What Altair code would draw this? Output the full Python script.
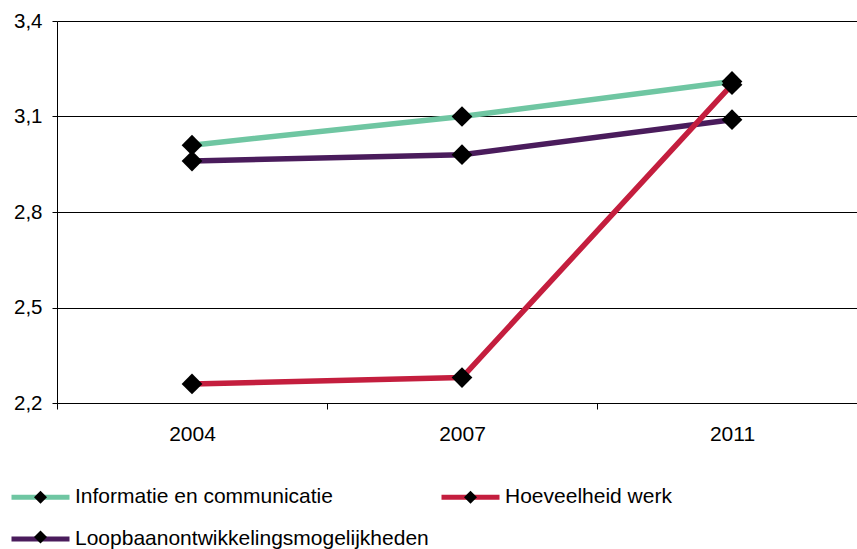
import altair as alt
import pandas as pd

# Survey scores per theme (1-4 scale), three measurement years
years = ["2004", "2007", "2011"]
series_names = [
    "Informatie en communicatie",
    "Loopbaanontwikkelingsmogelijkheden",
    "Hoeveelheid werk",
]
informatie = [3.01, 3.10, 3.21]
loopbaan = [2.96, 2.98, 3.09]
hoeveelheid = [2.26, 2.28, 3.20]
series_colors = ["#6fc6a2", "#4a1c5c", "#c41e3e"]
y_ticks = [2.2, 2.5, 2.8, 3.1, 3.4]

FONT = "Liberation Sans"

# rows in drawing order: the red line goes on top of the purple one
rows = []
for name, vals in zip(series_names, [informatie, loopbaan, hoeveelheid]):
    for yr, v in zip(years, vals):
        rows.append({"jaar": yr, "serie": name, "score": v})
df = pd.DataFrame(rows)

x_enc = alt.X(
    "jaar:O",
    bandPosition=0.5,
    scale=alt.Scale(type="band", domain=years, range=[0, 810],
                    paddingInner=0, paddingOuter=0),
    axis=alt.Axis(title=None, tickBand="extent", labelAngle=0,
                  labelFont=FONT, labelFontSize=21, labelColor="black",
                  labelPadding=14, tickSize=6, tickColor="black",
                  domainColor="black", grid=False),
)
y_enc = alt.Y(
    "score:Q",
    scale=alt.Scale(domain=[2.2, 3.4], nice=False, zero=False),
    axis=alt.Axis(title=None, values=y_ticks,
                  labelExpr="replace(format(datum.value, '.1f'), '.', ',')",
                  labelFont=FONT, labelFontSize=20.5, labelColor="black",
                  labelPadding=10, tickSize=5, tickColor="black",
                  domainColor="black", grid=True, gridColor="black",
                  gridWidth=1),
)

# two legends on one grid (entries fill column by column):
# coloured line segments, with black diamonds laid over them
legend_common = dict(
    orient="none", legendX=-48, columns=2, padding=0, title=None,
    labelFont=FONT, labelFontSize=21, labelLimit=600, labelOffset=3,
    values=series_names,
)

lines = alt.Chart(df).mark_line(strokeWidth=5.5, strokeJoin="round").encode(
    x=x_enc,
    y=y_enc,
    stroke=alt.Stroke(
        "serie:N",
        scale=alt.Scale(domain=series_names, range=series_colors),
        legend=alt.Legend(symbolType="stroke", symbolSize=3364,
                          symbolStrokeWidth=5, labelColor="black",
                          legendY=444.5, rowPadding=-24, columnPadding=2,
                          **legend_common),
    ),
)

points = alt.Chart(df).transform_calculate(
    marker="datum.serie"
).mark_point(shape="diamond", filled=True, size=430, opacity=1).encode(
    x=x_enc,
    y=y_enc,
    fill=alt.Fill(
        "marker:N",
        sort=series_names,
        scale=alt.Scale(range=["black", "black", "black"]),
        legend=alt.Legend(symbolType="diamond", symbolSize=169,
                          symbolStrokeWidth=0, symbolFillColor="black",
                          symbolOffset=21, labelOpacity=0,
                          legendY=465.5, rowPadding=18, columnPadding=31,
                          zindex=1, **legend_common),
    ),
)

chart = alt.layer(lines, points).properties(
    width=800,
    height=382,
    padding={"left": 57, "top": 21, "right": 0, "bottom": 146},
    autosize=alt.AutoSizeParams(type="none"),
).configure_view(stroke=None).configure(background="white")

chart.save("out.html", embed_options={"renderer": "svg", "actions": False})
